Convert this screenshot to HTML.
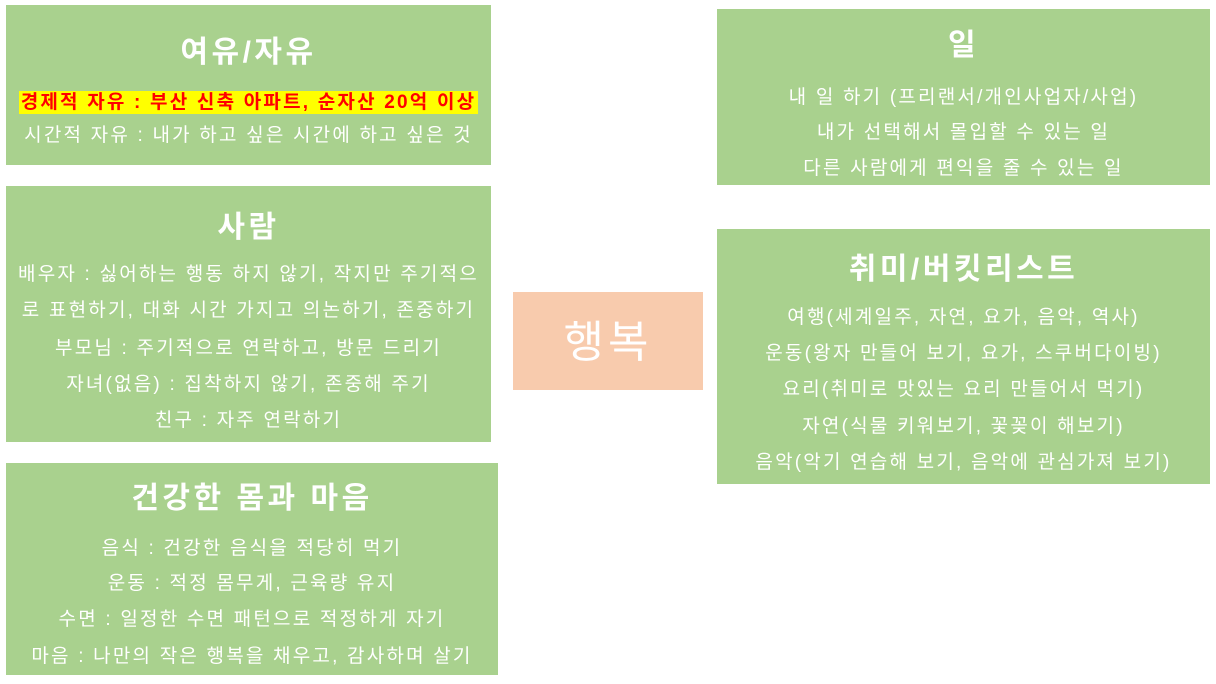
<!DOCTYPE html>
<html><head><meta charset="utf-8"><style>
body{margin:0;width:1216px;height:684px;background:#fff;position:relative;overflow:hidden;font-family:"Liberation Sans","Noto Sans CJK KR","NanumGothic",sans-serif;color:#fff}
.b{position:absolute;background:#a9d18e;text-align:center}
.t{position:absolute;left:0;right:0;font-size:30px;font-weight:bold;line-height:36px;letter-spacing:3.5px;margin-top:2px}
.l{position:absolute;left:-20px;right:-20px;font-size:19px;line-height:26px;white-space:nowrap;letter-spacing:2.2px;margin-top:3px}
.hl{background:#ffff00;color:#ff0000;font-weight:bold;padding:1px 2px}
</style></head><body>
<div class="b" style="left:6px;top:5px;width:485px;height:160px">
<div class="t" style="top:28px">여유/자유</div>
<div class="l" style="top:82px"><span class="hl">경제적 자유 : 부산 신축 아파트, 순자산 20억 이상</span></div>
<div class="l" style="top:115px">시간적 자유 : 내가 하고 싶은 시간에 하고 싶은 것</div>
</div>
<div class="b" style="left:6px;top:186px;width:485px;height:256px">
<div class="t" style="top:22px">사람</div>
<div class="l" style="top:73px">배우자 : 싫어하는 행동 하지 않기, 작지만 주기적으</div>
<div class="l" style="top:109px">로 표현하기, 대화 시간 가지고 의논하기, 존중하기</div>
<div class="l" style="top:147px">부모님 : 주기적으로 연락하고, 방문 드리기</div>
<div class="l" style="top:183px">자녀(없음) : 집착하지 않기, 존중해 주기</div>
<div class="l" style="top:219px">친구 : 자주 연락하기</div>
</div>
<div class="b" style="left:6px;top:463px;width:492px;height:212px">
<div class="t" style="top:16px">건강한 몸과 마음</div>
<div class="l" style="top:70px">음식 : 건강한 음식을 적당히 먹기</div>
<div class="l" style="top:105px">운동 : 적정 몸무게, 근육량 유지</div>
<div class="l" style="top:141px">수면 : 일정한 수면 패턴으로 적정하게 자기</div>
<div class="l" style="top:178px">마음 : 나만의 작은 행복을 채우고, 감사하며 살기</div>
</div>
<div class="b" style="left:513px;top:292px;width:190px;height:98px;background:#f8cbad">
<div style="position:absolute;left:0;right:0;top:26px;font-size:44px;line-height:50px;letter-spacing:4px">행복</div>
</div>
<div class="b" style="left:717px;top:9px;width:493px;height:176px">
<div class="t" style="top:17px">일</div>
<div class="l" style="top:73px">내 일 하기 (프리랜서/개인사업자/사업)</div>
<div class="l" style="top:108px">내가 선택해서 몰입할 수 있는 일</div>
<div class="l" style="top:144px">다른 사람에게 편익을 줄 수 있는 일</div>
</div>
<div class="b" style="left:717px;top:229px;width:493px;height:255px">
<div class="t" style="top:21px">취미/버킷리스트</div>
<div class="l" style="top:73px">여행(세계일주, 자연, 요가, 음악, 역사)</div>
<div class="l" style="top:109px">운동(왕자 만들어 보기, 요가, 스쿠버다이빙)</div>
<div class="l" style="top:145px">요리(취미로 맛있는 요리 만들어서 먹기)</div>
<div class="l" style="top:182px">자연(식물 키워보기, 꽃꽂이 해보기)</div>
<div class="l" style="top:218px">음악(악기 연습해 보기, 음악에 관심가져 보기)</div>
</div>
</body></html>
